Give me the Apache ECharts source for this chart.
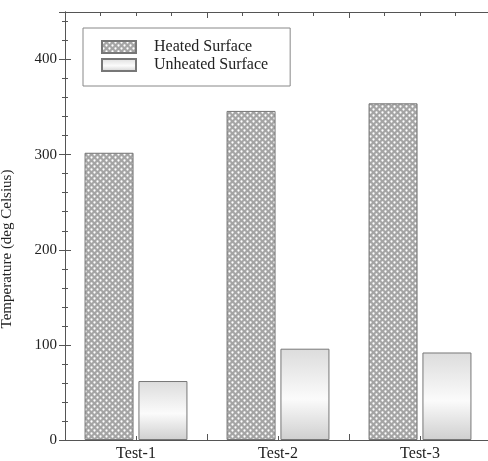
<!DOCTYPE html>
<html>
<head>
<meta charset="utf-8">
<script src="https://cdn.jsdelivr.net/npm/echarts@6/dist/echarts.min.js"></script>
<style>
  html, body { margin: 0; padding: 0; background: #fff; }
  #chart { width: 488px; height: 461px; }
</style>
</head>
<body>
<div id="chart"></div>
<script>
// Data
const categories = ['Test-1', 'Test-2', 'Test-3'];
const heatedSurface = [302, 346, 354];
const unheatedSurface = [62, 96, 92];

const font = 'Liberation Serif';
const axisColor = '#555';

// Crosshatch pattern for heated bars
const pat = document.createElement('canvas');
pat.width = 6;
pat.height = 6;
const pctx = pat.getContext('2d');
pctx.fillStyle = '#a4a4a4';
pctx.fillRect(0, 0, 6, 6);
pctx.fillStyle = '#ffffff';
[[1.5, 1.5], [4.5, 4.5]].forEach(([x, y]) => {
  pctx.beginPath();
  pctx.arc(x, y, 1.15, 0, Math.PI * 2);
  pctx.fill();
});

const unheatedFill = {
  type: 'linear', x: 0, y: 0, x2: 0, y2: 1,
  colorStops: [
    { offset: 0, color: '#dcdcdc' },
    { offset: 0.55, color: '#fbfbfb' },
    { offset: 1, color: '#cfcfcf' }
  ]
};

// tick-only helper axis (category axes cannot draw minor ticks)
const tickAxis = (position) => ({
  type: 'value',
  position: position,
  min: 0,
  max: 3,
  interval: 1,
  axisLine: { show: position === 'top', lineStyle: { color: axisColor } },
  axisTick: { inside: true, length: 6, lineStyle: { color: axisColor } },
  minorTick: { show: true, splitNumber: 4, length: 4, lineStyle: { color: axisColor } },
  axisLabel: { show: false },
  splitLine: { show: false }
});

const valueAxis = (position) => ({
  type: 'value',
  position: position,
  min: 0,
  max: 450,
  interval: 100,
  axisLine: { show: true, lineStyle: { color: axisColor } },
  axisTick: { show: true, inside: true, length: 6, lineStyle: { color: axisColor } },
  minorTick: { show: true, splitNumber: 5, length: 3, lineStyle: { color: axisColor } },
  splitLine: { show: false }
});

const chart = echarts.init(document.getElementById('chart'));
chart.setOption({
  animation: false,
  textStyle: { fontFamily: font },
  grid: {
    left: 65, top: 12, width: 426, bottom: 21,
    containLabel: false, outerBoundsMode: 'none'
  },
  legend: {
    orient: 'vertical',
    left: 83,
    top: 28,
    padding: [11, 22, 13, 18],
    icon: 'rect',
    itemWidth: 34,
    itemHeight: 12,
    itemGap: 2,
    borderColor: '#888',
    borderWidth: 1,
    backgroundColor: '#fff',
    textStyle: { fontFamily: font, fontSize: 16, color: '#222', padding: [0, 0, 0, 13] },
    data: ['Heated Surface', 'Unheated Surface']
  },
  xAxis: [
    {
      type: 'category',
      data: categories,
      position: 'bottom',
      axisLine: { show: true, lineStyle: { color: axisColor } },
      axisTick: { show: false },
      axisLabel: { fontFamily: font, fontSize: 16, color: '#222', margin: 6 }
    },
    tickAxis('bottom'),
    tickAxis('top')
  ],
  yAxis: [
    Object.assign(valueAxis('left'), {
      name: 'Temperature (deg Celsius)',
      nameLocation: 'middle',
      nameGap: 50,
      nameTextStyle: { fontFamily: font, fontSize: 15, color: '#222', padding: [0, 46, 0, 0] },
      axisLabel: {
        fontFamily: font, fontSize: 15, color: '#222', margin: 8,
        showMaxLabel: false
      }
    }),
    Object.assign(valueAxis('right'), { axisLabel: { show: false } })
  ],
  series: [
    {
      name: 'Heated Surface',
      type: 'bar',
      data: heatedSurface,
      barWidth: 49,
      barGap: '10%',
      itemStyle: { color: { image: pat, repeat: 'repeat' }, borderColor: '#777', borderWidth: 1 }
    },
    {
      name: 'Unheated Surface',
      type: 'bar',
      data: unheatedSurface,
      barWidth: 49,
      barGap: '10%',
      itemStyle: { color: unheatedFill, borderColor: '#777', borderWidth: 1 }
    }
  ]
});
</script>
</body>
</html>
